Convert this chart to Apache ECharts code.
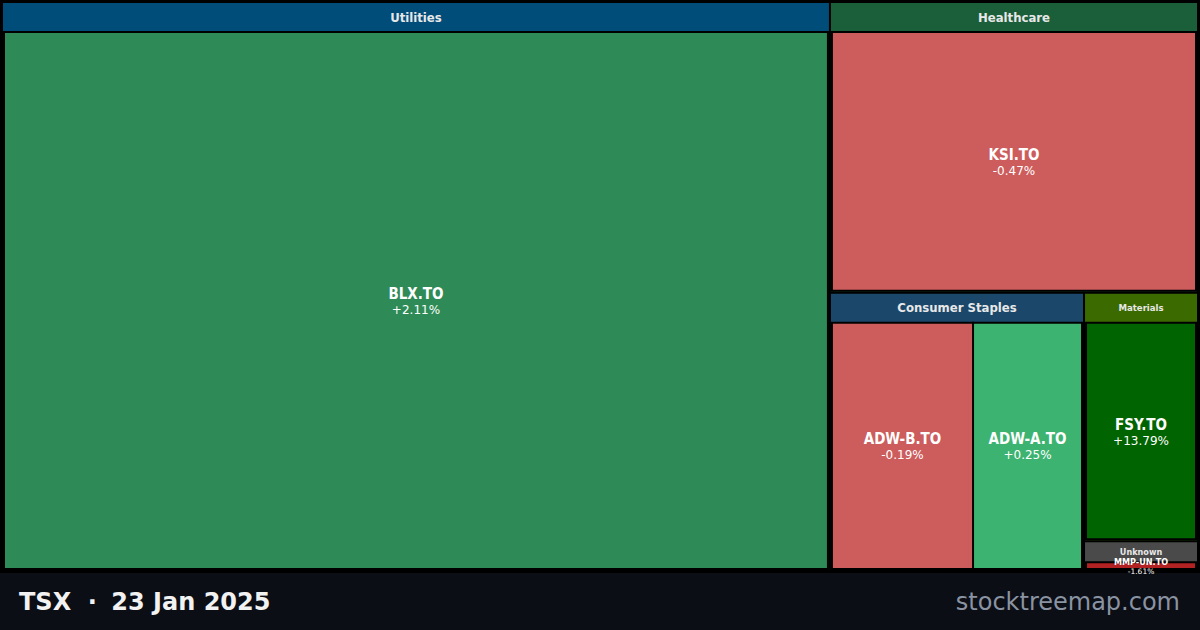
<!DOCTYPE html>
<html>
<head>
<meta charset="utf-8">
<script src="https://cdn.jsdelivr.net/npm/echarts@6/dist/echarts.min.js"></script>
<style>
  html, body { margin: 0; padding: 0; background: #000; }
  #chart { width: 1200px; height: 630px; }
</style>
</head>
<body>
<div id="chart"></div>
<script>
// sectors + header colours
var sectorNames = ['Utilities', 'Healthcare', 'Consumer Staples', 'Materials', 'Unknown'];
var sectorColors = ['#004d7a', '#1b5e3a', '#1a476a', '#3b6a00', '#4a4a4a'];

// tickers: sector index, size (market cap, approx) and day change in %
var tickers = ['BLX.TO', 'KSI.TO', 'ADW-B.TO', 'ADW-A.TO', 'FSY.TO', 'MMP-UN.TO'];
var tickerSector = [0, 1, 2, 2, 3, 4];
var tickerSize = [472.6, 107.4, 40.0, 30.9, 28.4, 3.4];
var tickerChange = [2.11, -0.47, -0.19, 0.25, 13.79, -1.61];

var market = 'TSX';
var dateLabel = '23 Jan 2025';
var site = 'stocktreemap.com';

var condFont = '"DejaVu Sans Condensed", "DejaVu Sans", sans-serif';
var baseFont = '"DejaVu Sans", sans-serif';

// colour scale for the daily change
function changeColor(c) {
  if (c >= 5) return '#006400';
  if (c >= 1) return '#2e8b57';
  if (c >= 0) return '#3cb371';
  if (c > -1) return '#cd5c5c';
  return '#b22222';
}

function fmtChange(c) {
  return (c > 0 ? '+' : '') + c.toFixed(2) + '%';
}

var data = sectorNames.map(function (s, i) {
  return {
    name: s,
    itemStyle: { borderColor: sectorColors[i] },
    upperLabel: {},
    children: []
  };
});
tickers.forEach(function (t, i) {
  data[tickerSector[i]].children.push({
    name: t,
    value: tickerSize[i],
    change: tickerChange[i],
    itemStyle: { color: changeColor(tickerChange[i]) }
  });
});
// the small sectors get a smaller header
data[3].upperLabel = { fontSize: 9.5 };
data[4].upperLabel = { fontSize: 9, height: 19 };
// tiny tile -> tiny label (it spills over, like the original)
data[4].children[0].label = {
  padding: [-9, 0, -40, 0],
  rich: {
    t: { fontSize: 9, lineHeight: 10 },
    p: { fontSize: 7.5, lineHeight: 10 }
  }
};

var chart = echarts.init(document.getElementById('chart'), null, { renderer: 'svg' });

var option = {
  backgroundColor: '#000',
  animation: false,
  series: [{
    type: 'treemap',
    left: 3,
    top: 3,
    right: 3,
    bottom: 60,
    squareRatio: 1,
    roam: false,
    nodeClick: false,
    drillDownIcon: '',
    breadcrumb: { show: false },
    levels: [
      {
        itemStyle: { borderWidth: 0, gapWidth: 2, borderColor: '#000' },
        upperLabel: { show: false }
      },
      {
        itemStyle: { borderWidth: 0, gapWidth: -2 },
        upperLabel: {
          show: true,
          height: 28,
          position: 'inside',
          align: 'center',
          verticalAlign: 'middle',
          color: '#e8e8e8',
          fontFamily: condFont,
          fontWeight: 'bold',
          fontSize: 13
        }
      },
      {
        itemStyle: { borderWidth: 2, borderColor: '#000', gapWidth: 0 },
        label: {
          show: true,
          // anchor at the tile centre, pull the two lines up by half their height
          position: ['50%', '50%'],
          align: 'center',
          verticalAlign: 'top',
          padding: [-15, 0, -40, 0],
          formatter: function (p) {
            return '{t|' + p.name + '}\n{p|' + fmtChange(p.data.change) + '}';
          },
          rich: {
            t: { fontFamily: condFont, fontWeight: 'bold', fontSize: 15, color: '#fff', lineHeight: 17, align: 'center' },
            p: { fontFamily: baseFont, fontSize: 12, color: '#fff', lineHeight: 15, align: 'center' }
          }
        }
      }
    ],
    data: data
  }],
  graphic: [
    {
      type: 'rect',
      silent: true,
      shape: { x: 0, y: 573, width: 1200, height: 57 },
      style: { fill: '#0b0e15' }
    },
    {
      type: 'text',
      silent: true,
      x: 19,
      y: 602,
      style: {
        text: market + '\u00a0\u00a0·\u00a0\u2005' + dateLabel,
        font: 'bold 24px ' + baseFont,
        fill: '#f2f2f2',
        verticalAlign: 'middle'
      }
    },
    {
      type: 'text',
      silent: true,
      x: 1180,
      y: 602,
      style: {
        text: site,
        font: '24px ' + baseFont,
        fill: '#8a93a2',
        align: 'right',
        verticalAlign: 'middle'
      }
    }
  ]
};

chart.setOption(option);
</script>
</body>
</html>
